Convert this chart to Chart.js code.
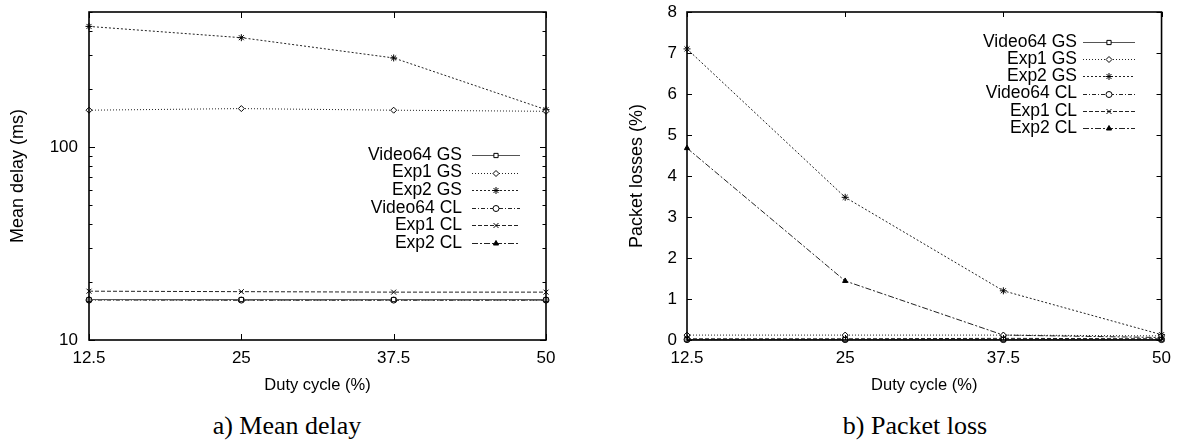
<!DOCTYPE html>
<html>
<head>
<meta charset="utf-8">
<script src="https://cdn.jsdelivr.net/npm/chart.js@4.4.1/dist/chart.umd.min.js"></script>
<style>
    body { margin: 0; background: #fff; width: 1179px; height: 444px; position: relative; overflow: hidden; }
    canvas { position: absolute; top: 0; }
    .caption {
        position: absolute; top: 411px; width: 300px; text-align: center;
        font-family: 'Liberation Serif', 'Times New Roman', serif; font-size: 26px; line-height: 30px; color: #000;
    }
</style>
</head>
<body>
<canvas id="delayChart" width="590" height="400" style="left:0"></canvas>
<canvas id="lossChart" width="589" height="400" style="left:590px"></canvas>
<div class="caption" style="left:137px">a) Mean delay</div>
<div class="caption" style="left:765px">b) Packet loss</div>
<script>
// values
const dutyCycles = ['12.5', '25', '37.5', '50'];
const seriesNames = ['Video64 GS', 'Exp1 GS', 'Exp2 GS', 'Video64 CL', 'Exp1 CL', 'Exp2 CL'];

// a) mean delay (ms), log axis
const delayVideo64GS = [16.2, 16.2, 16.2, 16.2];
const delayExp1GS = [155, 158, 155, 153];
const delayExp2GS = [421, 368, 289, 156];
const delayVideo64CL = [16.1, 16.1, 16.1, 16.1];
const delayExp1CL = [17.9, 17.8, 17.7, 17.7];
const delayExp2CL = [16.2, 16.1, 16.1, 16.1];
const delayTicks = [10, 20, 30, 40, 50, 60, 70, 80, 90, 100, 200, 300, 400, 500];
const delayLabelled = [10, 100];

// b) packet losses (%)
const lossVideo64GS = [0.01, 0.01, 0.01, 0.01];
const lossExp1GS = [0.12, 0.12, 0.12, 0.1];
const lossExp2GS = [7.1, 3.48, 1.2, 0.13];
const lossVideo64CL = [0.01, 0.01, 0.01, 0.01];
const lossExp1CL = [0.03, 0.03, 0.04, 0.03];
const lossExp2CL = [4.68, 1.44, 0.12, 0.06];
const lossTicks = [0, 1, 2, 3, 4, 5, 6, 7, 8];

const SANS = '"Liberation Sans", Arial, Helvetica, sans-serif';

// gnuplot-ish line types, one per series
const seriesStyles = [
    { dash: [], point: 'rect', radius: 3, fill: '#fff', color: '#555' },
    { dash: [1, 2], point: 'rectRot', radius: 3, fill: '#fff', color: '#222' },
    { dash: [2, 2], point: 'star', radius: 3.5, fill: '#000', color: '#222' },
    { dash: [4, 2, 1, 2], point: 'circle', radius: 3, fill: '#fff', color: '#222' },
    { dash: [4, 2], point: 'crossRot', radius: 3.5, fill: '#000', color: '#222' },
    { dash: [6, 2, 2, 2], point: 'triangle', radius: 3, fill: '#000', color: '#222' }
];

function makeDatasets(seriesData) {
    return seriesData.map((values, i) => {
        const s = seriesStyles[i];
        return {
            label: seriesNames[i],
            data: values,
            borderColor: s.color,
            borderWidth: 1,
            borderDash: s.dash,
            tension: 0,
            fill: false,
            clip: false,
            pointStyle: s.point,
            pointRadius: s.radius,
            pointBorderWidth: 1,
            pointBorderColor: '#000',
            pointBackgroundColor: s.fill
        };
    });
}

// border box plus inward tick marks on all four sides
const gnuplotFrame = {
    id: 'gnuplotFrame',
    afterDatasetsDraw(chart, args, opts) {
        const { ctx, chartArea: a, scales: { x, y } } = chart;
        ctx.save();
        ctx.strokeStyle = '#000';
        ctx.lineWidth = 1;
        ctx.setLineDash([]);
        ctx.beginPath();
        y.ticks.forEach(t => {
            const py = Math.round(y.getPixelForValue(t.value)) + 0.5;
            const len = t.label ? opts.major : opts.minor;
            ctx.moveTo(a.left, py);
            ctx.lineTo(a.left + len, py);
            ctx.moveTo(a.right, py);
            ctx.lineTo(a.right - len, py);
        });
        x.ticks.forEach((t, i) => {
            const px = Math.round(x.getPixelForTick(i)) + 0.5;
            ctx.moveTo(px, a.bottom);
            ctx.lineTo(px, a.bottom - opts.major);
            ctx.moveTo(px, a.top);
            ctx.lineTo(px, a.top + opts.major);
        });
        ctx.stroke();
        ctx.lineWidth = 1.6;
        ctx.strokeRect(a.left, a.top, a.width, a.height);
        ctx.restore();
    }
};

// key drawn inside the plot: text on the left, line sample with marker on the right
const insideLegend = {
    id: 'insideLegend',
    afterDraw(chart, args, opts) {
        const ctx = chart.ctx;
        ctx.save();
        ctx.font = '17.5px ' + SANS;
        ctx.textAlign = 'right';
        ctx.textBaseline = 'middle';
        chart.data.datasets.forEach((ds, i) => {
            const y = opts.top + i * opts.rowHeight;
            const x0 = opts.textRight + opts.gap;
            const x1 = x0 + opts.sampleWidth;
            ctx.fillStyle = '#000';
            ctx.fillText(ds.label, opts.textRight, y);

            ctx.strokeStyle = ds.borderColor;
            ctx.lineWidth = 1;
            ctx.setLineDash(ds.borderDash);
            ctx.beginPath();
            ctx.moveTo(x0, Math.round(y) + 0.5);
            ctx.lineTo(x1, Math.round(y) + 0.5);
            ctx.stroke();

            ctx.setLineDash([]);
            ctx.fillStyle = ds.pointBackgroundColor;
            ctx.strokeStyle = '#000';
            Chart.helpers.drawPoint(ctx, {
                pointStyle: ds.pointStyle, radius: ds.pointRadius, borderWidth: 1, rotation: 0
            }, (x0 + x1) / 2, Math.round(y) + 0.5);
        });
        ctx.restore();
    }
};

function xAxis() {
    return {
        type: 'category',
        offset: false,
        grid: { display: false, drawTicks: false },
        border: { display: false },
        ticks: { color: '#000', font: { family: SANS, size: 17 }, padding: 8, maxRotation: 0, autoSkip: false },
        title: { display: true, text: 'Duty cycle (%)', color: '#000', font: { family: SANS, size: 16.5 }, padding: { top: 0, bottom: 5 } },
        afterFit(scale) { scale.height = 60; }
    };
}

function baseOptions(yScale, legendPos, frame) {
    return {
        responsive: false,
        animation: false,
        events: [],
        layout: { padding: legendPos.padding },
        plugins: {
            legend: { display: false },
            tooltip: { enabled: false },
            gnuplotFrame: frame,
            insideLegend: legendPos.legend
        },
        scales: { x: xAxis(), y: yScale }
    };
}

new Chart(document.getElementById('delayChart').getContext('2d'), {
    type: 'line',
    data: {
        labels: dutyCycles,
        datasets: makeDatasets([delayVideo64GS, delayExp1GS, delayExp2GS, delayVideo64CL, delayExp1CL, delayExp2CL])
    },
    options: baseOptions({
        type: 'logarithmic',
        min: 10,
        max: 500,
        grid: { display: false, drawTicks: false },
        border: { display: false },
        afterBuildTicks(scale) { scale.ticks = delayTicks.map(v => ({ value: v })); },
        ticks: {
            color: '#000', font: { family: SANS, size: 17 }, padding: 11, autoSkip: false,
            callback: v => delayLabelled.includes(v) ? String(v) : ''
        },
        title: { display: true, text: 'Mean delay (ms)', color: '#000', font: { family: SANS, size: 18 }, padding: { top: 7, bottom: 0 } },
        afterFit(scale) {
            scale.width = 89;
            scale.paddingTop = 0;
            scale.paddingBottom = 0;
        }
    }, {
        padding: { left: 0, top: 12, right: 44, bottom: 0 },
        legend: { textRight: 462, top: 155, rowHeight: 17.6, gap: 10, sampleWidth: 48 }
    }, { major: 6, minor: 3.5 }),
    plugins: [gnuplotFrame, insideLegend]
});

new Chart(document.getElementById('lossChart').getContext('2d'), {
    type: 'line',
    data: {
        labels: dutyCycles,
        datasets: makeDatasets([lossVideo64GS, lossExp1GS, lossExp2GS, lossVideo64CL, lossExp1CL, lossExp2CL])
    },
    options: baseOptions({
        type: 'linear',
        min: 0,
        max: 8,
        grid: { display: false, drawTicks: false },
        border: { display: false },
        afterBuildTicks(scale) { scale.ticks = lossTicks.map(v => ({ value: v })); },
        ticks: { color: '#000', font: { family: SANS, size: 17 }, padding: 10, autoSkip: false },
        title: { display: true, text: 'Packet losses (%)', color: '#000', font: { family: SANS, size: 18 }, padding: { top: 36, bottom: 0 } },
        afterFit(scale) {
            scale.width = 97;
            scale.paddingTop = 0;
            scale.paddingBottom = 0;
        }
    }, {
        padding: { left: 0, top: 12, right: 15, bottom: 0 },
        legend: { textRight: 487, top: 42, rowHeight: 17.2, gap: 6, sampleWidth: 52 }
    }, { major: 5, minor: 5 }),
    plugins: [gnuplotFrame, insideLegend]
});
</script>
</body>
</html>
